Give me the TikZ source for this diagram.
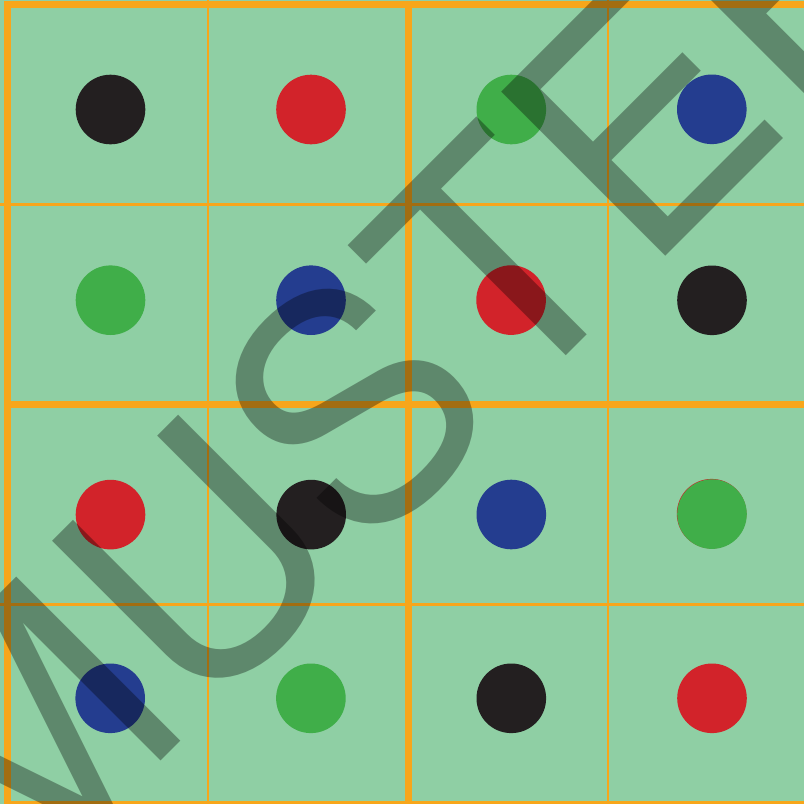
\documentclass[tikz,border=0pt]{standalone}
\usepackage{fontspec}
\newfontfamily\wmfont{TeX Gyre Heros}
\definecolor{bggreen}{RGB}{143,207,164}
\definecolor{gridorange}{RGB}{247,166,27}
\definecolor{dotblack}{RGB}{35,31,32}
\definecolor{dotred}{RGB}{210,35,42}
\definecolor{dotgreen}{RGB}{64,174,73}
\definecolor{dotblue}{RGB}{36,61,143}
\begin{document}
\begin{tikzpicture}[x=1pt,y=-1pt,
  thickline/.style={draw=gridorange, line width=7pt},
  thinline/.style={draw=gridorange, line width=2.7pt},
  dot/.style={circle, minimum size=69.6pt, inner sep=0pt, outer sep=0pt, draw=none},
  watermark/.style={anchor=base west, rotate=45, inner sep=0pt, outer sep=0pt,
    text=black, text opacity=0.34,
    font=\wmfont\fontsize{318.4pt}{318.4pt}\selectfont}]
\useasboundingbox (0,0) rectangle (804,804);
\clip (0,0) rectangle (804,804);
\fill[bggreen] (0,0) rectangle (804,804);
% thin grid lines
\draw[thinline] (0,204.3) -- (804,204.3);
\draw[thinline] (0,604.3) -- (804,604.3);
\draw[thinline] (208,0) -- (208,804);
\draw[thinline] (608,0) -- (608,804);
% thick grid lines
\draw[thickline] (4.4,4.4) -- (812,4.4);
\draw[thickline] (4.4,404.4) -- (812,404.4);
\draw[thickline] (4.4,804.4) -- (812,804.4);
\draw[thickline] (7.9,0.9) -- (7.9,808);
\draw[thickline] (408.1,0.9) -- (408.1,808);
\draw[thickline] (808.5,0.9) -- (808.5,808);
% dots
\node[dot, fill=dotblack] (d11) at (110.5,109.5) {};
\node[dot, fill=dotred]   (d12) at (311,109.5) {};
\node[dot, fill=dotgreen] (d13) at (511.3,109.5) {};
\node[dot, fill=dotblue]  (d14) at (711.8,109.3) {};
\node[dot, fill=dotgreen] (d21) at (110.5,300.2) {};
\node[dot, fill=dotblue]  (d22) at (311,300.2) {};
\node[dot, fill=dotred]   (d23) at (511.1,300.1) {};
\node[dot, fill=dotblack] (d24) at (712,300.3) {};
\node[dot, fill=dotred]   (d31) at (110.5,514.6) {};
\node[dot, fill=dotblack] (d32) at (311.2,514.6) {};
\node[dot, fill=dotblue]  (d33) at (511.3,514.5) {};
\node[dot, fill=dotred]   (d34r) at (711.6,513.7) {};
\node[dot, fill=dotgreen] (d34) at (712,514.1) {};
\node[dot, fill=dotblue]  (d41) at (110.2,698.3) {};
\node[dot, fill=dotgreen] (d42) at (310.9,698.3) {};
\node[dot, fill=dotblack] (d43) at (511.3,698.3) {};
\node[dot, fill=dotred]   (d44) at (712,698.3) {};
% watermark
\node[watermark] (wm) at (9.6,912.5) {MUS\kern-3ptTER};
\end{tikzpicture}
\end{document}
